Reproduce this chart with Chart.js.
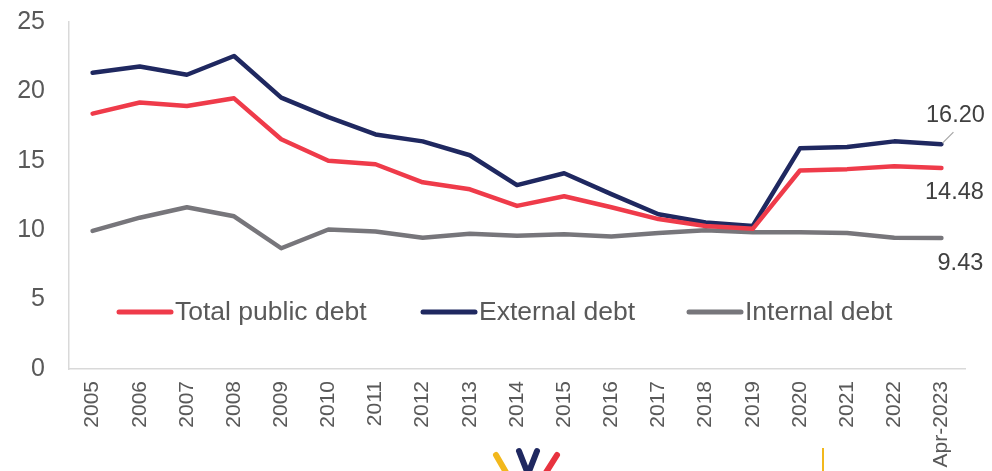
<!DOCTYPE html>
<html>
<head>
<meta charset="utf-8">
<script src="https://cdn.jsdelivr.net/npm/chart.js@4/dist/chart.umd.min.js"></script>
<style>
  html, body { margin: 0; padding: 0; background: #fff; }
  #wrap { width: 992px; height: 471px; }
</style>
</head>
<body>
<div id="wrap"><canvas id="debtChart" width="992" height="471"></canvas></div>
<script>
// Data
const years = ["2005", "2006", "2007", "2008", "2009", "2010", "2011", "2012", "2013", "2014",
  "2015", "2016", "2017", "2018", "2019", "2020", "2021", "2022", "Apr-2023"];
const totalDebt = [18.4, 19.2, 18.95, 19.5, 16.55, 15.0, 14.75, 13.45, 12.95, 11.75,
  12.45, 11.65, 10.8, 10.3, 10.1, 14.3, 14.4, 14.6, 14.48];
const externalDebt = [21.35, 21.8, 21.2, 22.55, 19.55, 18.15, 16.9, 16.4, 15.4, 13.25,
  14.1, 12.6, 11.15, 10.55, 10.3, 15.9, 16.0, 16.4, 16.2];
const internalDebt = [9.95, 10.9, 11.65, 11.0, 8.7, 10.05, 9.9, 9.45, 9.75, 9.6,
  9.7, 9.55, 9.8, 10.0, 9.85, 9.85, 9.8, 9.45, 9.43];
const yTicks = [0, 5, 10, 15, 20, 25];

const RED = "#ef3b4a", NAVY = "#1f2860", GRAY = "#77767b";
const TEXT = "#595959";
const FONT = "'Liberation Sans', Arial, sans-serif";

// last-point labels + legend + footer marks
const extras = {
  id: "extras",
  afterDatasetsDraw(chart) {
    const ctx = chart.ctx;
    ctx.save();
    ctx.font = "23.5px " + FONT;
    ctx.fillStyle = "#404040";
    ctx.textBaseline = "middle";
    ctx.textAlign = "center";
    const last = years.length - 1;
    const pExt = chart.getDatasetMeta(1).data[last];
    const pTot = chart.getDatasetMeta(0).data[last];
    const pInt = chart.getDatasetMeta(2).data[last];
    // leader line for external debt label
    ctx.strokeStyle = "#a6a6a6";
    ctx.lineWidth = 1.2;
    ctx.beginPath();
    ctx.moveTo(pExt.x + 1, pExt.y - 1);
    ctx.lineTo(pExt.x + 12, pExt.y - 12);
    ctx.stroke();
    ctx.fillText(externalDebt[last].toFixed(2), pExt.x + 14, pExt.y - 29);
    ctx.fillText(totalDebt[last].toFixed(2), pTot.x + 13, pTot.y + 24);
    ctx.fillText(internalDebt[last].toFixed(2), pInt.x + 19, pInt.y + 25);

    // legend inside the plot
    const items = [["Total public debt", RED, 117], ["External debt", NAVY, 421], ["Internal debt", GRAY, 687]];
    const ly = 312;
    ctx.font = "26.5px " + FONT;
    ctx.textAlign = "left";
    ctx.fillStyle = TEXT;
    items.forEach(([label, col, x]) => {
      ctx.strokeStyle = col;
      ctx.lineWidth = 5;
      ctx.lineCap = "round";
      ctx.beginPath();
      ctx.moveTo(x + 2, ly);
      ctx.lineTo(x + 54, ly);
      ctx.stroke();
      ctx.fillText(label, x + 58, ly + 1);
    });

    // partial logo marks at the bottom edge
    ctx.lineCap = "round";
    ctx.lineWidth = 6;
    ctx.strokeStyle = "#f2b81c";
    ctx.beginPath(); ctx.moveTo(496, 455); ctx.lineTo(507, 474); ctx.stroke();
    ctx.strokeStyle = NAVY;
    ctx.beginPath(); ctx.moveTo(519, 451); ctx.lineTo(528, 474); ctx.lineTo(537, 451); ctx.stroke();
    ctx.strokeStyle = "#e8333f";
    ctx.beginPath(); ctx.moveTo(557, 455); ctx.lineTo(545, 474); ctx.stroke();
    ctx.lineWidth = 2;
    ctx.lineCap = "butt";
    ctx.strokeStyle = "#f2b81c";
    ctx.beginPath(); ctx.moveTo(823, 448); ctx.lineTo(823, 471); ctx.stroke();
    ctx.restore();
  }
};

const lineSet = (label, data, color) => ({
  label, data,
  borderColor: color,
  backgroundColor: color,
  borderWidth: 4.5,
  pointRadius: 0,
  tension: 0,
  borderCapStyle: "round",
  borderJoinStyle: "round",
  fill: false
});

new Chart(document.getElementById("debtChart"), {
  type: "line",
  data: {
    labels: years,
    datasets: [
      lineSet("Total public debt", totalDebt, RED),
      lineSet("External debt", externalDebt, NAVY),
      lineSet("Internal debt", internalDebt, GRAY)
    ]
  },
  options: {
    responsive: false,
    animation: false,
    layout: { padding: { top: 22, right: 27, left: 0, bottom: 0 } },
    plugins: { legend: { display: false }, tooltip: { enabled: false } },
    scales: {
      x: {
        offset: true,
        grid: { display: false, drawTicks: false },
        border: { color: "#d9d9d9", width: 1.5 },
        ticks: {
          color: TEXT,
          font: { family: FONT, size: 21 },
          minRotation: 90, maxRotation: 90,
          padding: 12,
          autoSkip: false
        },
        afterFit(scale) { scale.height = 102; }
      },
      y: {
        min: 0, max: 25,
        afterBuildTicks(scale) { scale.ticks = yTicks.map(v => ({ value: v })); },
        grid: { display: false, drawTicks: false },
        border: { color: "#d9d9d9", width: 1.5 },
        ticks: {
          color: TEXT,
          font: { family: FONT, size: 25 },
          padding: 24
        },
        // tick padding would otherwise be added to the top inset
        afterFit(scale) { scale.width = 69; scale.paddingTop = 0; scale.paddingBottom = 0; }
      }
    }
  },
  plugins: [extras]
});
</script>
</body>
</html>
